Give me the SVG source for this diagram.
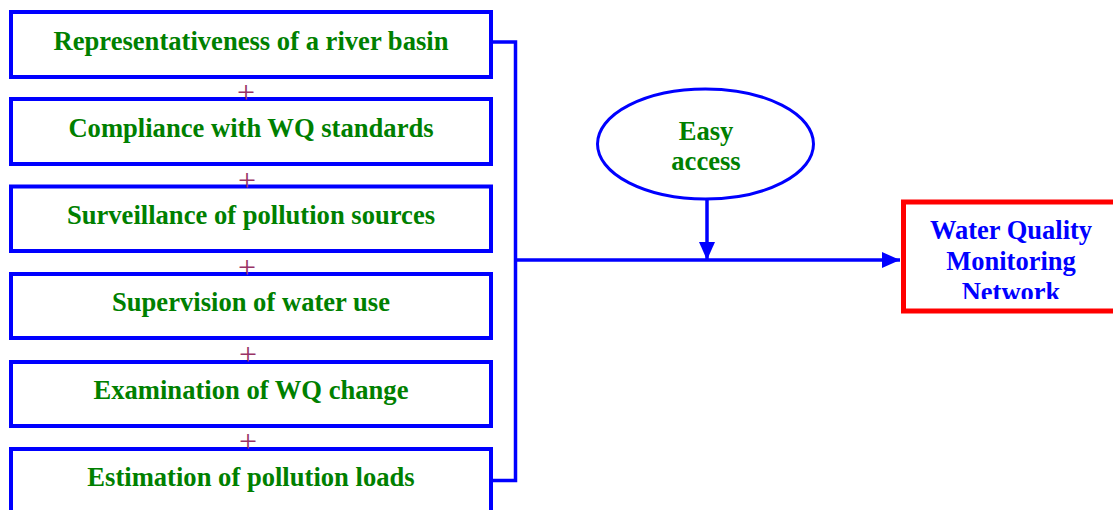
<svg xmlns="http://www.w3.org/2000/svg" width="1113" height="510" viewBox="0 0 1113 510">
  <style>
    .box { fill: #ffffff; stroke: #0000ff; stroke-width: 4; }
    .lbl { font-family: "Liberation Serif", "Times New Roman", serif; font-weight: bold; font-size: 26.6px; fill: #008000; text-anchor: middle; }
    .plus { font-family: "Liberation Serif", "Times New Roman", serif; font-size: 32px; fill: #993366; text-anchor: middle; }
    .wire { fill: none; stroke: #0000ff; stroke-width: 3.5; }
    .out { font-family: "Liberation Serif", "Times New Roman", serif; font-weight: bold; font-size: 26.5px; fill: #0000ff; text-anchor: middle; }
  </style>
  <defs>
    <marker id="arrow" markerUnits="userSpaceOnUse" markerWidth="18" markerHeight="16" refX="18" refY="8" orient="auto">
      <path d="M0,0 L18,8 L0,16 Z" fill="#0000ff"/>
    </marker>
    <clipPath id="outClip">
      <rect x="906" y="206" width="210" height="93"/>
    </clipPath>
  </defs>

  <rect width="1113" height="510" fill="#ffffff"/>

  <!-- criteria boxes -->
  <g id="n1"><rect class="box" x="11" y="12" width="480" height="65"/><text class="lbl" x="251" y="49.5">Representativeness of a river basin</text></g>
  <g id="n2"><rect class="box" x="11" y="99" width="480" height="65"/><text class="lbl" x="251" y="136.5">Compliance with WQ standards</text></g>
  <g id="n3"><rect class="box" x="11" y="186.5" width="480" height="64.5"/><text class="lbl" x="251" y="223.5">Surveillance of pollution sources</text></g>
  <g id="n4"><rect class="box" x="11" y="274" width="480" height="64"/><text class="lbl" x="251" y="311">Supervision of water use</text></g>
  <g id="n5"><rect class="box" x="11" y="362" width="480" height="64"/><text class="lbl" x="251" y="398.5">Examination of WQ change</text></g>
  <g id="n6"><rect class="box" x="11" y="449" width="480" height="70"/><text class="lbl" x="251" y="486">Estimation of pollution loads</text></g>

  <!-- plus signs between boxes -->
  <g id="plus">
    <text class="plus" x="246" y="103">+</text>
    <text class="plus" x="247" y="191">+</text>
    <text class="plus" x="247" y="278">+</text>
    <text class="plus" x="248" y="365">+</text>
    <text class="plus" x="248" y="452">+</text>
  </g>

  <!-- easy access ellipse -->
  <g id="access">
    <ellipse cx="705.5" cy="144" rx="108" ry="55" fill="#ffffff" stroke="#0000ff" stroke-width="3"/>
    <text class="lbl" x="706" y="139.5">Easy</text>
    <text class="lbl" x="706" y="170">access</text>
  </g>

  <!-- output box -->
  <g id="network">
    <rect x="903.5" y="202" width="220" height="109" fill="#ffffff" stroke="#ff0000" stroke-width="5"/>
    <g clip-path="url(#outClip)">
      <text class="out" x="1011" y="239">Water Quality</text>
      <text class="out" x="1011" y="270">Monitoring</text>
      <text class="out" x="1011" y="301">Network</text>
    </g>
  </g>

  <!-- connectors -->
  <g id="connectors">
    <path class="wire" d="M491,42 H515.5 V480.5 H491"/>
    <path class="wire" d="M515.5,260 H900" marker-end="url(#arrow)"/>
    <path class="wire" d="M707,199 V260" marker-end="url(#arrow)"/>
  </g>
</svg>
